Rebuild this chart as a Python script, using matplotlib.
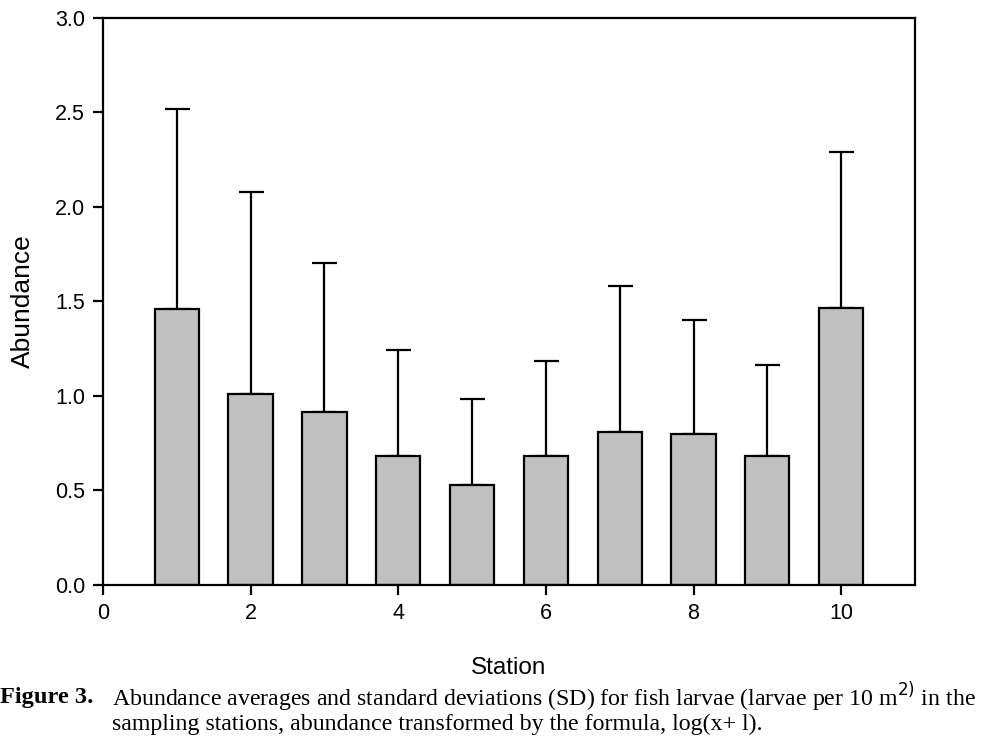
import matplotlib
matplotlib.use("Agg")
import matplotlib.pyplot as plt

stations = [1, 2, 3, 4, 5, 6, 7, 8, 9, 10]
means = [1.46, 1.01, 0.915, 0.68, 0.53, 0.68, 0.81, 0.80, 0.685, 1.465]
sds = [1.06, 1.07, 0.79, 0.565, 0.455, 0.505, 0.77, 0.60, 0.48, 0.825]
xticks = [0, 2, 4, 6, 8, 10]
yticks = [0.0, 0.5, 1.0, 1.5, 2.0, 2.5, 3.0]

fig = plt.figure(figsize=(9.91, 7.55), dpi=100)
ax = fig.add_axes([0.1039, 0.2252, 0.8194, 0.7510])
ax.bar(stations, means, width=0.6, color="#c0c0c0", edgecolor="black", linewidth=1.6, zorder=2)
ax.errorbar(stations, means, yerr=[[0]*len(sds), sds], fmt="none", ecolor="black",
            elinewidth=1.6, capsize=9, capthick=1.6, zorder=1)
ax.set_xlim(0, 11)
ax.set_ylim(0, 3.0)
ax.set_xticks(xticks)
ax.set_yticks(yticks)
ax.set_yticklabels([f"{v:.1f}" for v in yticks])
for s in ax.spines.values():
    s.set_linewidth(1.6)
ax.tick_params(direction="out", length=7, width=1.6, labelsize=15.5, pad=6)
for lab in ax.get_xticklabels() + ax.get_yticklabels():
    lab.set_family("Liberation Sans")
ax.set_xlabel("Station", fontsize=17.5, family="Liberation Sans", labelpad=24)
ax.set_ylabel("Abundance", fontsize=19, family="Liberation Sans", labelpad=14)

fig.text(0.0, 1 - 697/755, "Figure 3.", fontsize=17.6, family="Liberation Serif", weight="bold", va="center")
fig.text(0.113, 1 - 697/755, "Abundance averages and standard deviations (SD) for fish larvae (larvae per 10 m$^{2)}$ in the",
         fontsize=17.2, family="Liberation Serif", va="center")
fig.text(0.113, 1 - 724/755, "sampling stations, abundance transformed by the formula, log(x+ l).",
         fontsize=17.2, family="Liberation Serif", va="center")
fig.savefig("out.png", dpi=100)
